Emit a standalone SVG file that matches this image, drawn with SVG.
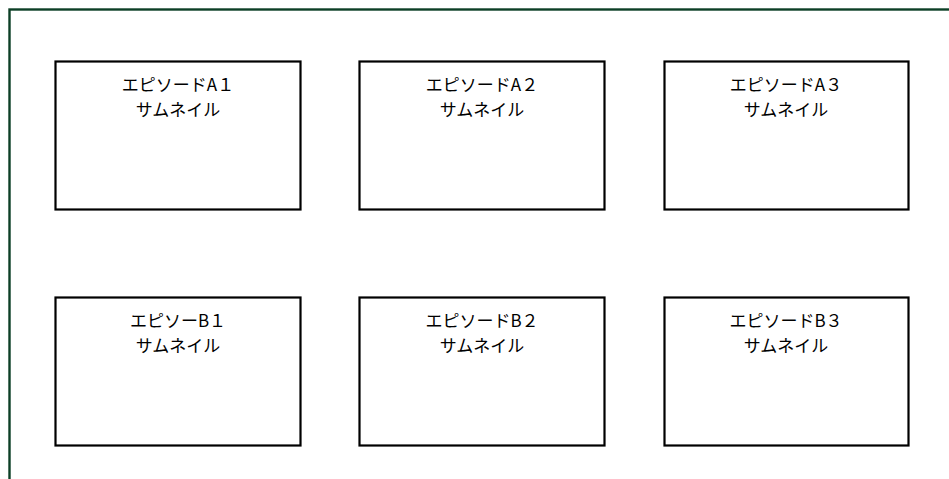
<svg xmlns="http://www.w3.org/2000/svg" width="949" height="479" viewBox="0 0 949 479">
<style>
.box{fill:#fff;stroke:#000;stroke-width:2.2}
.t{font-family:"Noto Sans CJK JP","Noto Sans",sans-serif;font-size:17px;fill:#000;text-anchor:middle}
</style>
<rect width="949" height="479" fill="#fff"/>
<rect x="9.5" y="9.5" width="960" height="500" fill="none" stroke="#0c3f26" stroke-width="2.4"/>
<g id="nodeA1"><rect class="box" x="55.5" y="61.5" width="245" height="148"/><text class="t" x="178" y="91">エピソードA１</text><text class="t" x="178" y="115.5">サムネイル</text></g>
<g id="nodeA2"><rect class="box" x="359.5" y="61.5" width="245" height="148"/><text class="t" x="482" y="91">エピソードA２</text><text class="t" x="482" y="115.5">サムネイル</text></g>
<g id="nodeA3"><rect class="box" x="664.5" y="61.5" width="244" height="148"/><text class="t" x="786" y="91">エピソードA３</text><text class="t" x="786" y="115.5">サムネイル</text></g>
<g id="nodeB1"><rect class="box" x="55.5" y="297.5" width="245" height="148"/><text class="t" x="178" y="327">エピソーB１</text><text class="t" x="178" y="351.5">サムネイル</text></g>
<g id="nodeB2"><rect class="box" x="359.5" y="297.5" width="245" height="148"/><text class="t" x="482" y="327">エピソードB２</text><text class="t" x="482" y="351.5">サムネイル</text></g>
<g id="nodeB3"><rect class="box" x="664.5" y="297.5" width="244" height="148"/><text class="t" x="786" y="327">エピソードB３</text><text class="t" x="786" y="351.5">サムネイル</text></g>
<g id="connectors"></g>
</svg>
